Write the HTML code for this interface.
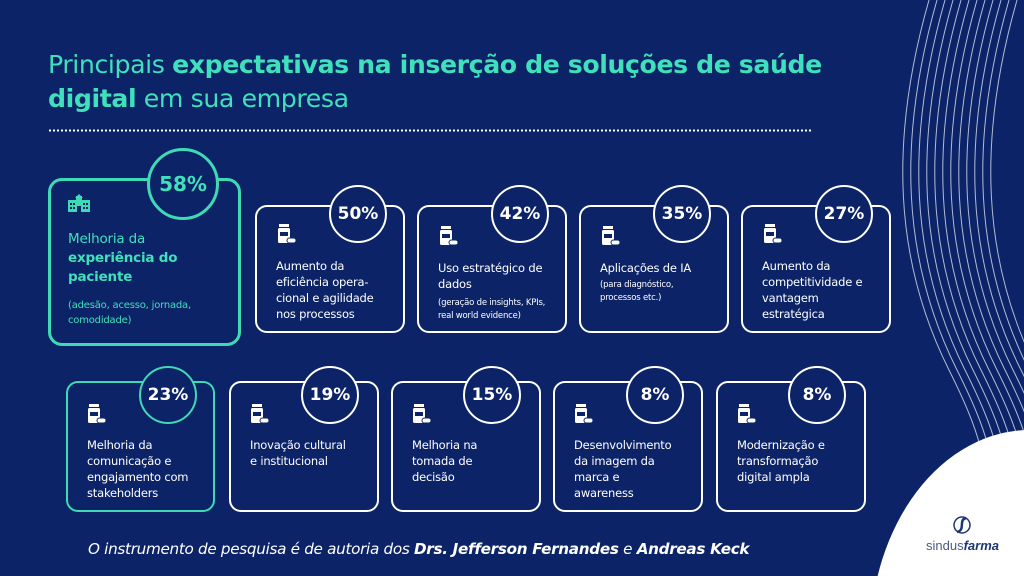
<!DOCTYPE html>
<html><head><meta charset="utf-8"><style>
*{margin:0;padding:0;box-sizing:border-box}
html,body{width:1024px;height:576px;overflow:hidden}
body{background:#0c2467;font-family:"DejaVu Sans","Liberation Sans",sans-serif;color:#fff;position:relative}
.abs{position:absolute}
.title{left:48px;top:48px;font-size:25.2px;line-height:34px;color:#3fe0bb;letter-spacing:-0.4px;white-space:nowrap}
.title b{font-weight:bold}
.dots{left:48px;top:129px;width:765px;height:3px;background-image:radial-gradient(circle,#fff 1px,transparent 1.3px);background-size:4px 3px}
.card{position:absolute;border:2px solid #fff;border-radius:12px;background:#0c2467}
.card.t{border-color:#3fd9b6}
.circ{position:absolute;border:2px solid #fff;border-radius:50%;background:#0c2467;display:flex;align-items:center;justify-content:center;font-weight:bold;font-size:17px}
.circ.t{border-color:#3fd9b6}
.txt{position:absolute;font-size:11.5px;line-height:16px;letter-spacing:-0.2px;white-space:nowrap}
.sm{font-size:8.5px;line-height:13px;margin-top:5px}
.ic{position:absolute}
</style></head><body>
<svg class="abs" style="left:0;top:0" width="1024" height="576">
<g fill="none" stroke="#cfd6ec" stroke-width="1" opacity="0.85">
<path d="M937 0 C897 140 902 260 957 370 S987 480 987 576"/>
<path d="M945 0 C905 140 910 260 965 370 S995 480 995 576"/>
<path d="M953 0 C913 140 918 260 973 370 S1003 480 1003 576"/>
<path d="M961 0 C921 140 926 260 981 370 S1011 480 1011 576"/>
<path d="M969 0 C929 140 934 260 989 370 S1019 480 1019 576"/>
<path d="M977 0 C937 140 942 260 997 370 S1027 480 1027 576"/>
<path d="M985 0 C945 140 950 260 1005 370 S1035 480 1035 576"/>
<path d="M993 0 C953 140 958 260 1013 370 S1043 480 1043 576"/>
<path d="M1001 0 C961 140 966 260 1021 370 S1051 480 1051 576"/>
<path d="M1009 0 C969 140 974 260 1029 370 S1059 480 1059 576"/>
<path d="M1017 0 C977 140 982 260 1037 370 S1067 480 1067 576"/>
<path d="M929 0 C889 140 894 260 949 370 S979 480 979 576"/>
</g>
<ellipse cx="1030" cy="640" rx="160" ry="210" fill="#fff"/>
<circle cx="962" cy="525" r="8" fill="none" stroke="#1d3575" stroke-width="1.5"/>
<path d="M966 518 C958 520 966 530 957 532" stroke="#1d3575" stroke-width="2.5" fill="none"/>
<text x="926" y="550" font-family="Liberation Sans,sans-serif" font-size="13" fill="#4a5a86">sindus<tspan font-weight="bold" font-style="italic" fill="#1d3575">farma</tspan></text>
</svg>
<div class="abs title">Principais <b>expectativas na inserção de soluções de saúde<br>digital</b> em sua empresa</div>
<div class="abs dots"></div>

<div class="card t" style="left:48px;top:178px;width:193px;height:168px;border-width:3px;border-radius:14px"></div>
<div class="circ t" style="left:147px;top:148px;width:72px;height:72px;border-width:3px;font-size:20px;color:#3fe0bb">58%</div>
<svg class="ic" style="left:68px;top:194px" width="22" height="18"><g fill="#3fd9b6"><rect x="0" y="6" width="22" height="12"/><rect x="8" y="2" width="6" height="6"/><polygon points="11,0 15,4 7,4"/></g><g fill="#0c2467"><rect x="2" y="9" width="2" height="2"/><rect x="5" y="9" width="2" height="2"/><rect x="15" y="9" width="2" height="2"/><rect x="18" y="9" width="2" height="2"/><rect x="2" y="13" width="2" height="2"/><rect x="5" y="13" width="2" height="2"/><rect x="15" y="13" width="2" height="2"/><rect x="18" y="13" width="2" height="2"/><rect x="9" y="12" width="4" height="6"/></g></svg>
<div class="txt" style="left:68px;top:230px;color:#3fe0bb;font-size:13.5px;line-height:19px">Melhoria da<br><b>experiência do<br>paciente</b><div style="font-size:10px;line-height:15px;margin-top:11px">(adesão, acesso, jornada,<br>comodidade)</div></div>

<div class="card" style="left:255px;top:205px;width:150px;height:128px"></div>
<div class="circ" style="left:329px;top:185px;width:58px;height:58px">50%</div>
<div class="txt" style="left:276px;top:258px">Aumento da<br>eficiência opera-<br>cional e agilidade<br>nos processos</div>

<div class="card" style="left:417px;top:205px;width:150px;height:128px"></div>
<div class="circ" style="left:491px;top:185px;width:58px;height:58px">42%</div>
<div class="txt" style="left:438px;top:260px">Uso estratégico de<br>dados<div class="sm">(geração de insights, KPIs,<br>real world evidence)</div></div>

<div class="card" style="left:579px;top:205px;width:150px;height:128px"></div>
<div class="circ" style="left:653px;top:185px;width:58px;height:58px">35%</div>
<div class="txt" style="left:600px;top:260px">Aplicações de IA<div class="sm" style="margin-top:3px">(para diagnóstico,<br>processos etc.)</div></div>

<div class="card" style="left:741px;top:205px;width:150px;height:128px"></div>
<div class="circ" style="left:815px;top:185px;width:58px;height:58px">27%</div>
<div class="txt" style="left:762px;top:258px">Aumento da<br>competitividade e<br>vantagem<br>estratégica</div>

<div class="card t" style="left:66px;top:381px;width:149px;height:131px"></div>
<div class="circ t" style="left:139px;top:366px;width:58px;height:58px">23%</div>
<div class="txt" style="left:87px;top:437px">Melhoria da<br>comunicação e<br>engajamento com<br>stakeholders</div>

<div class="card" style="left:229px;top:381px;width:150px;height:131px"></div>
<div class="circ" style="left:301px;top:366px;width:58px;height:58px">19%</div>
<div class="txt" style="left:250px;top:437px">Inovação cultural<br>e institucional</div>

<div class="card" style="left:391px;top:381px;width:150px;height:131px"></div>
<div class="circ" style="left:463px;top:366px;width:58px;height:58px">15%</div>
<div class="txt" style="left:412px;top:437px">Melhoria na<br>tomada de<br>decisão</div>

<div class="card" style="left:553px;top:381px;width:150px;height:131px"></div>
<div class="circ" style="left:626px;top:366px;width:58px;height:58px">8%</div>
<div class="txt" style="left:574px;top:437px">Desenvolvimento<br>da imagem da<br>marca e<br>awareness</div>

<div class="card" style="left:716px;top:381px;width:150px;height:131px"></div>
<div class="circ" style="left:788px;top:366px;width:58px;height:58px">8%</div>
<div class="txt" style="left:737px;top:437px">Modernização e<br>transformação<br>digital ampla</div>

<svg width="0" height="0" style="position:absolute;left:0;top:0"><defs><g id="b"><rect x="1" y="0" width="10" height="3" fill="#fff"/><rect x="0" y="4" width="12" height="15" rx="1.5" fill="#fff"/><rect x="2" y="8" width="8" height="4" fill="#0c2467"/><rect x="9" y="14" width="9" height="5" rx="2.5" fill="#fff" stroke="#0c2467" stroke-width="1"/></g></defs></svg>
<svg class="ic" style="left:278px;top:224px" width="20" height="21"><use href="#b"/></svg>
<svg class="ic" style="left:440px;top:226px" width="20" height="21"><use href="#b"/></svg>
<svg class="ic" style="left:602px;top:226px" width="20" height="21"><use href="#b"/></svg>
<svg class="ic" style="left:764px;top:224px" width="20" height="21"><use href="#b"/></svg>
<svg class="ic" style="left:88px;top:404px" width="20" height="21"><use href="#b"/></svg>
<svg class="ic" style="left:251px;top:404px" width="20" height="21"><use href="#b"/></svg>
<svg class="ic" style="left:413px;top:404px" width="20" height="21"><use href="#b"/></svg>
<svg class="ic" style="left:575px;top:404px" width="20" height="21"><use href="#b"/></svg>
<svg class="ic" style="left:738px;top:404px" width="20" height="21"><use href="#b"/></svg>

<div class="abs" style="left:88px;top:540px;font-size:15.2px;font-style:italic;letter-spacing:-0.3px;white-space:nowrap">O instrumento de pesquisa é de autoria dos <b>Drs. Jefferson Fernandes</b> e <b>Andreas Keck</b></div>
</body></html>
